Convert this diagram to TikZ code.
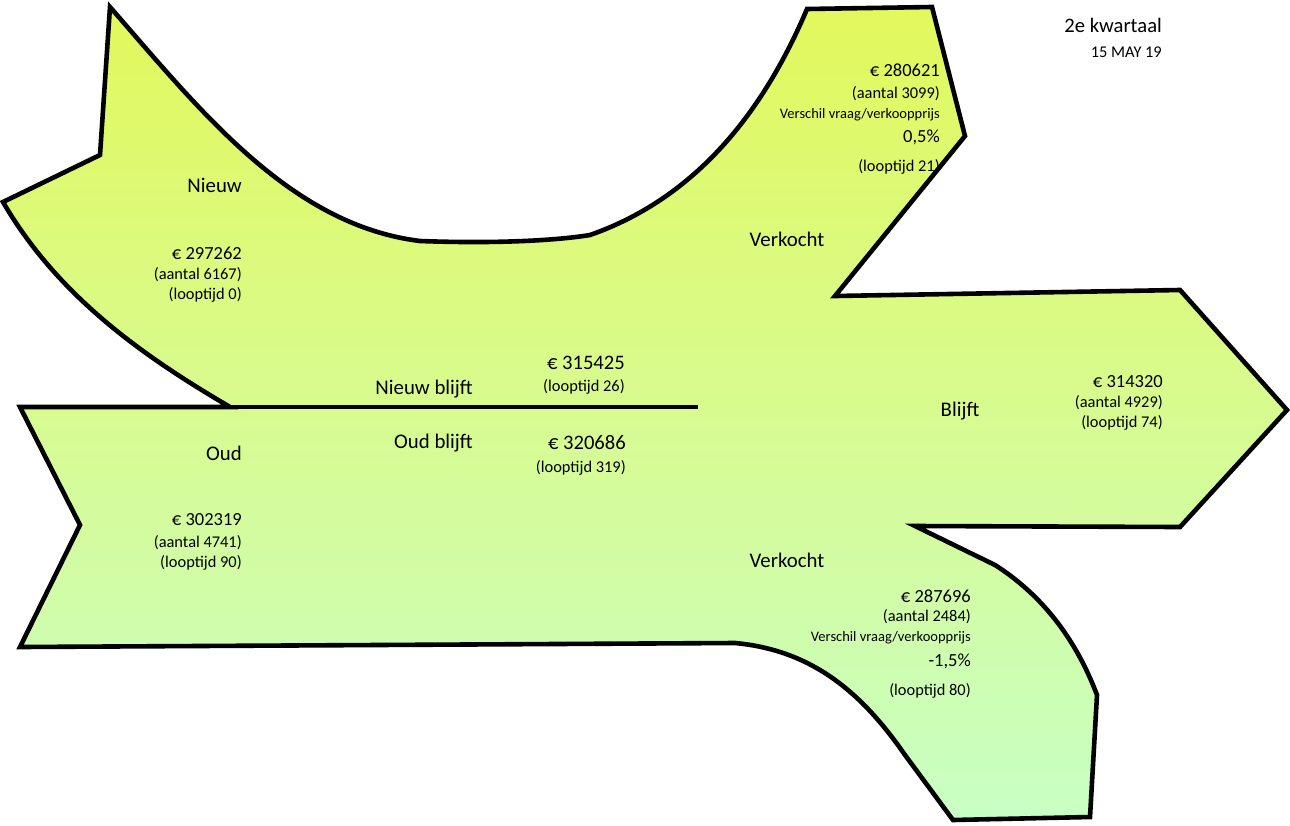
\documentclass[tikz,border=0pt]{standalone}
\usepackage{fontspec}
\setmainfont{Carlito}
\usepackage{tikz}

\definecolor{flowtop}{RGB}{226,248,92}
\definecolor{flowmid}{RGB}{216,251,145}
\definecolor{flowbot}{RGB}{200,255,196}

\tikzset{
  flow/.style={line width=4.6pt, line join=miter, top color=flowtop, bottom color=flowbot, middle color=flowmid},
  lbl/.style={inner sep=0pt, font=\fontsize{20.8}{25}\selectfont},
  big/.style={inner sep=0pt, anchor=east, font=\fontsize{20.6}{25}\selectfont},
  val/.style={inner sep=0pt, anchor=east, font=\fontsize{18.5}{22}\selectfont},
  sml/.style={inner sep=0pt, anchor=east, font=\fontsize{16.4}{20}\selectfont},
  tny/.style={inner sep=0pt, anchor=east, font=\fontsize{14.5}{18}\selectfont}
}

\begin{document}
\begin{tikzpicture}[x=1pt, y=-1pt]
\useasboundingbox (0,0) rectangle (1290,825);

% outline of the flows
\coordinate (split) at (230,407);
\coordinate (splitend) at (698,407);
\draw[flow] (110,7) .. controls (200,110) and (290,225) .. (420,241)
  .. controls (500,244) and (560,240) .. (590,235)
  .. controls (690,200) and (760,120) .. (807,9)
  -- (932,7) -- (965,136) -- (835,296)
  -- (1180,290) -- (1287,410) -- (1180,527) -- (915,526)
  -- (995,565) .. controls (1050,600) and (1080,650) .. (1097,695)
  -- (1090,817) -- (953,820) -- (905,755)
  .. controls (860,690) and (810,650) .. (735,643)
  -- (20,647) -- (80,525) -- (20,407) -- (split)
  .. controls (150,360) and (60,300) .. (3,202)
  -- (100,155) -- cycle;
\draw[line width=4.6pt] (split) -- (splitend);

% header
\node[big] (kw) at (1162,25) {2e kwartaal};
\node[sml] (datum) at (1162,52) {15 MAY 19};

% nieuw
\node[lbl, anchor=east] (nieuw) at (242,185) {Nieuw};
\node[val] (nieuwval) at (242,253) {€ 297262};
\node[sml] (nieuwaant) at (242,275) {(aantal 6167)};
\node[sml] (nieuwloop) at (242,295) {(looptijd 0)};

% nieuw blijft
\node[lbl, anchor=east] (nblijft) at (473,389) {Nieuw blijft};
\node[big] (nblijftval) at (625,363) {€ 315425};
\node[sml] (nblijftloop) at (625,387) {(looptijd 26)};

% oud blijft
\node[lbl, anchor=east] (oblijft) at (473,443) {Oud blijft};
\node[big] (oblijftval) at (626,443) {€ 320686};
\node[sml] (oblijftloop) at (626,468) {(looptijd 319)};

% oud
\node[lbl, anchor=east] (oud) at (242,453) {Oud};
\node[val] (oudval) at (242,520) {€ 302319};
\node[sml] (oudaant) at (242,543) {(aantal 4741)};
\node[sml] (oudloop) at (242,563) {(looptijd 90)};

% verkocht boven
\node[lbl] (verk1) at (787,239) {Verkocht};
\node[val] (verk1val) at (940,70) {€ 280621};
\node[sml] (verk1aant) at (940,94) {(aantal 3099)};
\node[tny] (verk1vers) at (940,115) {Verschil vraag/verkoopprijs};
\node[val] (verk1pct) at (940,137) {0,5\%};
\node[sml] (verk1loop) at (940,167) {(looptijd 21)};

% blijft
\node[lbl] (blijft) at (960,411) {Blijft};
\node[val] (blijftval) at (1163,382) {€ 314320};
\node[sml] (blijftaant) at (1163,403) {(aantal 4929)};
\node[sml] (blijftloop) at (1163,423) {(looptijd 74)};

% verkocht onder
\node[lbl] (verk2) at (787,560) {Verkocht};
\node[val] (verk2val) at (971,596) {€ 287696};
\node[sml] (verk2aant) at (971,617) {(aantal 2484)};
\node[tny] (verk2vers) at (971,638) {Verschil vraag/verkoopprijs};
\node[val] (verk2pct) at (971,661) {-1,5\%};
\node[sml] (verk2loop) at (971,691) {(looptijd 80)};
\end{tikzpicture}
\end{document}
